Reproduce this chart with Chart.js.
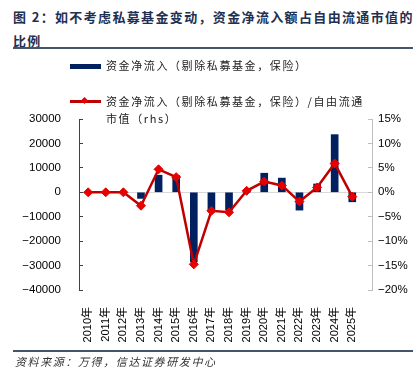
<!DOCTYPE html>
<html>
<head>
<meta charset="utf-8">
<script src="https://cdn.jsdelivr.net/npm/chart.js@4.4.1/dist/chart.umd.min.js"></script>
<style>
  body { margin: 0; width: 419px; height: 379px; position: relative; background: #fff; overflow: hidden;
         font-family: "Noto Sans CJK SC", sans-serif; }
  #chart { position: absolute; left: 0; top: 0; }
  .title { position: absolute; left: 13px; top: 5px; font-size: 13px; font-weight: bold; color: #1f3050;
           line-height: 24px; letter-spacing: 1.35px; white-space: nowrap; }
  .rule { position: absolute; left: 13px; width: 400px; background: #44546a; }
  .legend { position: absolute; font-size: 11px; color: #222; letter-spacing: 1.6px; line-height: 17px; white-space: nowrap; }
  .source { position: absolute; left: 15px; top: 353px; font-size: 11px; font-style: italic; color: #333;
            letter-spacing: 1.6px; white-space: nowrap; }
</style>
</head>
<body>
<div class="title">图 2：如不考虑私募基金变动，资金净流入额占自由流通市值的<br>比例</div>
<div class="rule" style="top:47px;height:2px;"></div>

<canvas id="chart" width="419" height="379"></canvas>

<div style="position:absolute;left:70px;top:64px;width:31px;height:5px;background:#002060;"></div>
<div class="legend" style="left:106px;top:57px;">资金净流入（剔除私募基金，保险）</div>
<div style="position:absolute;left:70px;top:100px;width:31px;height:3px;background:#c00000;"></div>
<div style="position:absolute;left:82px;top:98px;width:5px;height:5px;background:#e60000;transform:rotate(45deg);"></div>
<div class="legend" style="left:106px;top:93px;">资金净流入（剔除私募基金，保险）/自由流通<br>市值（rhs）</div>

<div class="rule" style="top:350px;height:2px;"></div>
<div class="source">资料来源：万得，信达证券研发中心</div>

<script>
// Categories and series
var categories = ["2010年", "2011年", "2012年", "2013年", "2014年", "2015年", "2016年", "2017年",
                  "2018年", "2019年", "2020年", "2021年", "2022年", "2023年", "2024年", "2025年"];
var netInflow = [0, 0, 0, -2500, 7000, 6800, -28500, -7300, -7300, 0, 7800, 5800, -7300, 3400, 23600, -3900];
var inflowRatio = [0, 0, 0, -2.75, 4.7, 3.1, -14.75, -3.8, -4.1, 0.3, 2.2, 1.4, -1.9, 1.0, 5.9, -0.9];
var leftTicks = [-40000, 30000, 10000];   // min, max, step
var rightTicks = [-20, 15, 5];           // min, max, step (%)

function minus(s) { return String(s).replace("-", "\u2212"); }

window.addEventListener("load", function () {
    var ctx = document.getElementById("chart");

    var barData = netInflow.map(function (v, i) { return { x: i, y: v }; });
    var lineData = inflowRatio.map(function (v, i) { return { x: i, y: v }; });

    var tickFont = { family: "Arial, 'Liberation Sans'", size: 11.5 };

    var chartData = {
        datasets: [{
            type: "line",
            label: "资金净流入（剔除私募基金，保险）/自由流通市值（rhs）",
            data: lineData,
            yAxisID: "y1",
            order: 0,
            borderColor: "#c00000",
            borderWidth: 2.5,
            tension: 0,
            pointStyle: "rectRot",
            pointRadius: 4.5,
            pointBackgroundColor: "#e60000",
            pointBorderColor: "#e60000",
            pointBorderWidth: 1
        }, {
            type: "bar",
            label: "资金净流入（剔除私募基金，保险）",
            data: barData,
            yAxisID: "y",
            order: 1,
            backgroundColor: "#002060",
            barThickness: 7
        }]
    };

    var chartOptions = {
        responsive: false,
        animation: false,
        layout: { padding: { top: 119, left: 0, right: 0, bottom: 0 } },
        plugins: { legend: { display: false }, tooltip: { enabled: false } },
        scales: {
            x: {
                type: "linear",
                min: 0,
                max: 15.6,
                grid: { display: false },
                border: { display: false },
                afterFit: function (s) { s.height = 89; },
                ticks: {
                    stepSize: 1,
                    autoSkip: false,
                    includeBounds: false,
                    minRotation: 90,
                    maxRotation: 90,
                    padding: 9,
                    color: "#000",
                    font: { family: "Arial, 'Liberation Sans', 'Noto Sans CJK SC'", size: 11 },
                    callback: function (v) { return categories[v] !== undefined ? categories[v] : ""; }
                }
            },
            y: {
                position: "left",
                min: leftTicks[0],
                max: leftTicks[1],
                afterFit: function (s) { s.width = 79; },
                border: { display: true, color: "#404040", width: 1 },
                grid: {
                    drawOnChartArea: true,
                    color: function (c) { return c.tick && c.tick.value === 0 ? "#d9d9d9" : "rgba(0,0,0,0)"; },
                    tickColor: "#404040",
                    tickLength: -4
                },
                ticks: {
                    stepSize: leftTicks[2],
                    padding: 22,
                    color: "#000",
                    font: tickFont,
                    callback: function (v) { return minus(v); }
                }
            },
            y1: {
                position: "right",
                min: rightTicks[0],
                max: rightTicks[1],
                afterFit: function (s) { s.width = 47; },
                border: { display: true, color: "#bfbfbf", width: 1 },
                grid: { drawOnChartArea: false, tickColor: "#bfbfbf", tickLength: -4 },
                ticks: {
                    stepSize: rightTicks[2],
                    padding: 10,
                    color: "#000",
                    font: tickFont,
                    callback: function (v) { return minus(v) + "%"; }
                }
            }
        }
    };

    // Create the chart
    var comboChart = new Chart(ctx, { data: chartData, options: chartOptions });
});
</script>
</body>
</html>
